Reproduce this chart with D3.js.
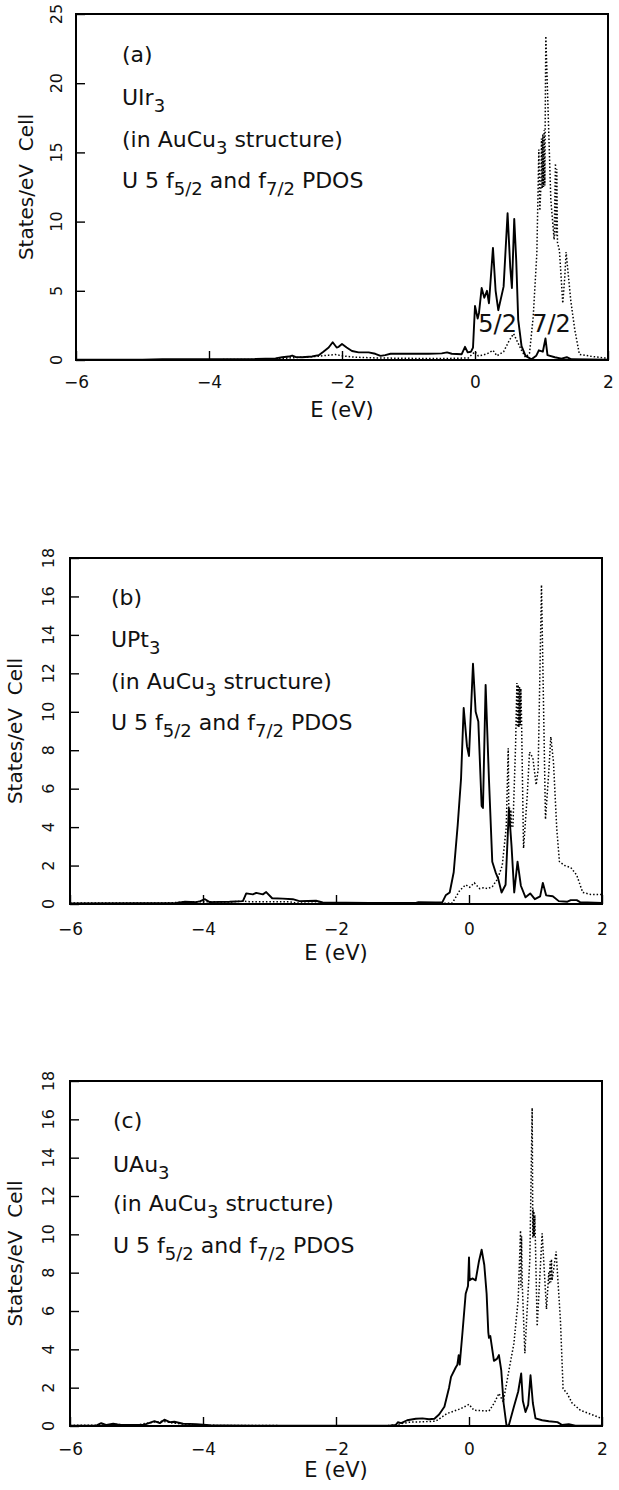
<!DOCTYPE html>
<html>
<head>
<meta charset="utf-8">
<script src="https://cdn.jsdelivr.net/npm/d3@7"></script>
<style>
  body { margin: 0; background: #fff; }
  svg { display: block; }
  text { font-family: "DejaVu Sans", sans-serif; fill: #111; white-space: pre; }
</style>
</head>
<body>
<svg id="chart" width="619" height="1490"></svg>
<script>
// Energy axis ticks (eV) shared by all three panels
const energyTicks = [-6, -4, -2, 0, 2];
const dosTicksA = [0, 5, 10, 15, 20, 25];
const dosTicksBC = [0, 2, 4, 6, 8, 10, 12, 14, 16, 18];

// U 5f partial DOS, [E (eV), states/eV cell]
// (a) UIr3
const uir3F52 = [[-6,0.02],[-5,0.03],[-4.7,0.05],[-4,0.05],[-3.3,0.07],[-3.0,0.12],[-2.9,0.2],[-2.8,0.25],[-2.75,0.32],[-2.7,0.22],[-2.6,0.2],[-2.45,0.25],[-2.35,0.35],[-2.28,0.6],[-2.2,0.9],[-2.14,1.28],[-2.08,0.9],[-2.05,0.95],[-2.0,1.15],[-1.93,0.9],[-1.85,0.65],[-1.75,0.55],[-1.6,0.55],[-1.5,0.45],[-1.42,0.3],[-1.35,0.35],[-1.27,0.45],[-1.0,0.45],[-0.7,0.45],[-0.5,0.48],[-0.42,0.55],[-0.35,0.45],[-0.2,0.42],[-0.15,0.95],[-0.11,0.55],[-0.06,0.6],[-0.03,0.9],[0.0,3.9],[0.04,3.0],[0.06,3.4],[0.1,5.2],[0.14,4.5],[0.18,5.0],[0.21,4.1],[0.27,8.1],[0.31,5.0],[0.35,3.6],[0.43,5.3],[0.49,10.6],[0.53,6.7],[0.555,5.2],[0.59,10.2],[0.62,7.2],[0.65,2.9],[0.70,1.0],[0.76,0.3],[0.85,0.05],[0.92,0.3],[0.96,0.7],[1.02,0.6],[1.06,1.55],[1.09,0.35],[1.2,0.2],[1.3,0.1],[1.38,0.2],[1.45,0.05],[2,0.02]];
const uir3F72 = [[-6,0.0],[-4,0.02],[-3.2,0.05],[-2.9,0.12],[-2.6,0.2],[-2.4,0.25],[-2.2,0.35],[-2.1,0.4],[-2.0,0.3],[-1.8,0.2],[-1.5,0.15],[-1.0,0.12],[-0.5,0.1],[-0.1,0.15],[0.0,0.6],[0.05,0.3],[0.12,0.35],[0.2,0.5],[0.27,0.7],[0.33,0.3],[0.43,0.6],[0.52,1.45],[0.58,1.9],[0.64,1.3],[0.70,0.7],[0.76,0.2],[0.82,0.5],[0.875,3.1],[0.93,7.7],[0.96,15.2],[0.975,10.8],[0.99,12.4],[1.0,16.0],[1.01,12.4],[1.02,16.3],[1.03,12.5],[1.04,16.6],[1.05,12.6],[1.055,16.8],[1.065,23.4],[1.14,11.6],[1.19,8.7],[1.21,14.2],[1.22,9.0],[1.23,13.8],[1.24,8.5],[1.27,7.9],[1.32,4.1],[1.35,6.0],[1.37,7.8],[1.44,4.3],[1.5,2.2],[1.57,0.4],[1.77,0.25],[1.95,0.15],[2,0.15]];

// (b) UPt3
const upt3F52 = [[-6,0.03],[-5,0.04],[-4.4,0.05],[-4.27,0.12],[-4.1,0.1],[-4.04,0.15],[-3.97,0.25],[-3.9,0.1],[-3.6,0.12],[-3.4,0.15],[-3.35,0.55],[-3.25,0.5],[-3.2,0.58],[-3.1,0.5],[-3.05,0.62],[-2.96,0.3],[-2.8,0.28],[-2.65,0.25],[-2.55,0.15],[-2.3,0.17],[-2.2,0.08],[-1.5,0.05],[-0.8,0.06],[-0.76,0.1],[-0.5,0.08],[-0.4,0.1],[-0.35,0.45],[-0.29,0.6],[-0.23,1.65],[-0.17,4.1],[-0.12,6.5],[-0.08,10.2],[-0.03,8.2],[0.0,7.7],[0.06,12.5],[0.1,10.0],[0.14,9.5],[0.19,5.1],[0.21,5.0],[0.25,11.4],[0.3,6.5],[0.35,2.2],[0.40,1.65],[0.44,1.3],[0.49,0.6],[0.55,1.0],[0.6,4.95],[0.64,3.0],[0.68,0.6],[0.73,2.2],[0.78,0.95],[0.85,0.35],[0.92,0.55],[0.99,0.25],[1.07,0.4],[1.11,1.1],[1.16,0.45],[1.26,0.4],[1.35,0.15],[1.48,0.12],[1.53,0.2],[1.62,0.2],[1.67,0.1],[2,0.05]];
const upt3F72 = [[-6,0.05],[-5,0.05],[-4.5,0.06],[-4.3,0.1],[-4.0,0.12],[-3.6,0.1],[-3.4,0.15],[-3.3,0.12],[-3.0,0.12],[-2.7,0.12],[-2.6,0.05],[-2.0,0.03],[-1.0,0.03],[-0.5,0.03],[-0.25,0.05],[-0.14,0.7],[-0.05,1.0],[0.01,0.87],[0.08,1.1],[0.16,0.8],[0.22,0.85],[0.28,0.8],[0.35,0.9],[0.43,1.3],[0.5,2.0],[0.56,4.0],[0.59,8.1],[0.6,4.2],[0.61,5.0],[0.62,4.0],[0.63,4.9],[0.64,4.0],[0.66,4.0],[0.7,8.2],[0.72,11.5],[0.73,9.2],[0.74,11.4],[0.75,9.2],[0.76,11.3],[0.77,9.3],[0.78,11.2],[0.79,9.6],[0.82,2.9],[0.875,5.6],[0.91,7.9],[0.96,7.6],[1.01,6.2],[1.04,7.0],[1.09,16.6],[1.15,4.4],[1.2,6.9],[1.23,8.7],[1.27,7.4],[1.32,3.9],[1.36,2.2],[1.44,2.0],[1.53,1.9],[1.62,1.5],[1.71,0.6],[1.83,0.5],[2,0.5]];

// (c) UAu3
const uau3F52 = [[-6,0.02],[-5.6,0.03],[-5.53,0.15],[-5.45,0.05],[-5.35,0.12],[-5.25,0.05],[-4.9,0.05],[-4.73,0.25],[-4.65,0.15],[-4.58,0.33],[-4.5,0.2],[-4.43,0.22],[-4.3,0.12],[-4.1,0.1],[-3.9,0.04],[-3.7,0.03],[-3.0,0.01],[-1.2,0.02],[-1.1,0.05],[-1.07,0.2],[-1.02,0.15],[-0.93,0.3],[-0.8,0.38],[-0.7,0.4],[-0.6,0.35],[-0.52,0.38],[-0.45,0.6],[-0.37,1.0],[-0.3,2.0],[-0.27,2.56],[-0.2,3.05],[-0.175,3.2],[-0.155,3.7],[-0.14,3.2],[-0.1,4.8],[-0.05,6.9],[-0.015,7.3],[0.0,8.8],[0.01,7.6],[0.05,7.7],[0.1,7.6],[0.15,8.6],[0.19,9.2],[0.23,8.4],[0.265,6.9],[0.29,4.9],[0.3,4.6],[0.32,4.7],[0.375,3.4],[0.42,3.5],[0.45,3.7],[0.485,2.9],[0.52,1.2],[0.565,0],[0.6,0.05],[0.675,1.0],[0.74,1.8],[0.785,2.74],[0.81,1.3],[0.85,0.73],[0.89,1.1],[0.925,2.65],[0.96,1.2],[1.0,0.4],[1.1,0.3],[1.2,0.25],[1.33,0.2],[1.4,0.05],[1.5,0.1],[1.6,0.02],[2,0.02]];
const uau3F72 = [[-6,0.03],[-5.5,0.05],[-5.3,0.08],[-5.0,0.05],[-4.75,0.2],[-4.6,0.25],[-4.45,0.15],[-4.2,0.08],[-3.8,0.03],[-2,0.01],[-1.2,0.02],[-1.05,0.1],[-0.9,0.2],[-0.7,0.22],[-0.5,0.25],[-0.33,0.65],[-0.125,0.9],[0.0,1.13],[0.075,0.82],[0.2,0.8],[0.3,0.78],[0.38,1.2],[0.45,1.7],[0.515,1.26],[0.6,2.9],[0.675,4.3],[0.74,6.6],[0.775,10.2],[0.78,7.2],[0.79,9.9],[0.8,7.5],[0.84,3.8],[0.915,8.7],[0.95,16.6],[0.96,9.8],[0.965,11.3],[0.97,9.9],[0.975,11.2],[0.98,9.9],[0.99,11.0],[1.025,5.2],[1.1,10.05],[1.165,6.1],[1.2,8.0],[1.21,7.4],[1.22,8.6],[1.23,7.5],[1.24,8.7],[1.25,7.6],[1.31,9.1],[1.375,5.5],[1.415,1.95],[1.475,1.7],[1.55,1.2],[1.675,0.82],[1.875,0.56],[2,0.38]];

// Text lines inside each panel: [text, isSubscript]
const structureLine = [["(in AuCu", false], ["3", true], [" structure)", false]];
const pdosLine = [["U 5 f", false], ["5/2", true], [" and f", false], ["7/2", true], [" PDOS", false]];

const panels = [
  { tag: "(a)", formula: [["UIr", false], ["3", true]], f52: uir3F52, f72: uir3F72,
    yMax: 25, yTicks: dosTicksA,
    box: { left: 76, right: 608, top: 14, bottom: 360 },
    textX: 122, textY: [48, 91, 133, 174],
    yTickX: 62, yTitleX: 33, xTickDy: 29, xTitleDy: 57,
    spinLabels: [["5/2", 0.05, 2.0], ["7/2", 0.86, 2.0]] },
  { tag: "(b)", formula: [["UPt", false], ["3", true]], f52: upt3F52, f72: upt3F72,
    yMax: 18, yTicks: dosTicksBC,
    box: { left: 70, right: 602, top: 558, bottom: 904 },
    textX: 111, textY: [47, 89, 131, 172],
    yTickX: 54, yTitleX: 22, xTickDy: 32, xTitleDy: 56,
    spinLabels: [] },
  { tag: "(c)", formula: [["UAu", false], ["3", true]], f52: uau3F52, f72: uau3F72,
    yMax: 18, yTicks: dosTicksBC,
    box: { left: 70, right: 602, top: 1081, bottom: 1426 },
    textX: 113, textY: [47, 91, 130, 172],
    yTickX: 54, yTitleX: 22, xTickDy: 30, xTitleDy: 51,
    spinLabels: [] }
];

const svg = d3.select("#chart");

function richText(sel, parts) {
  let shifted = false;
  parts.forEach(([str, sub]) => {
    const t = sel.append("tspan").text(str);
    if (sub && !shifted) { t.attr("font-size", 18).attr("dy", 7); shifted = true; }
    else if (!sub && shifted) { t.attr("dy", -7); shifted = false; }
  });
}

panels.forEach((p, i) => {
  const b = p.box;
  const x = d3.scaleLinear().domain([-6, 2]).range([b.left, b.right]);
  const y = d3.scaleLinear().domain([0, p.yMax]).range([b.bottom, b.top]);
  const g = svg.append("g");

  const clipId = "clip" + i;
  g.append("clipPath").attr("id", clipId).append("rect")
    .attr("x", b.left).attr("y", b.top - 2)
    .attr("width", b.right - b.left).attr("height", b.bottom - b.top + 2);

  const line = d3.line().x(d => x(d[0])).y(d => y(d[1]));

  // f7/2 dotted, f5/2 solid
  g.append("path").datum(p.f72)
    .attr("clip-path", `url(#${clipId})`)
    .attr("d", line).attr("fill", "none").attr("stroke", "#000")
    .attr("stroke-width", 1.5).attr("stroke-dasharray", "1.5,2");
  g.append("path").datum(p.f52)
    .attr("clip-path", `url(#${clipId})`)
    .attr("d", line).attr("fill", "none").attr("stroke", "#000")
    .attr("stroke-width", 1.9).attr("stroke-linejoin", "round");

  // Frame
  g.append("rect").attr("x", b.left).attr("y", b.top)
    .attr("width", b.right - b.left).attr("height", b.bottom - b.top)
    .attr("fill", "none").attr("stroke", "#000").attr("stroke-width", 2);

  // Bottom axis: inward ticks and labels
  const xAxis = d3.axisBottom(x).tickValues(energyTicks).tickSize(-9).tickSizeOuter(0)
    .tickFormat(d => d < 0 ? "\u2212" + Math.abs(d) : String(d));
  const gx = g.append("g").attr("transform", `translate(0,${b.bottom})`).call(xAxis);
  gx.select(".domain").remove();
  gx.selectAll(".tick line").attr("stroke", "#000").attr("stroke-width", 1.4);
  gx.selectAll(".tick text").attr("font-size", 17).attr("fill", "#111")
    .attr("font-family", "DejaVu Sans, sans-serif")
    .attr("y", p.xTickDy - 6).attr("dy", "0.32em");

  // Left axis: inward ticks, rotated labels
  const yAxis = d3.axisLeft(y).tickValues(p.yTicks).tickSize(-9).tickSizeOuter(0).tickFormat(d3.format("d"));
  const gy = g.append("g").attr("transform", `translate(${b.left},0)`).call(yAxis);
  gy.select(".domain").remove();
  gy.selectAll(".tick line").attr("stroke", "#000").attr("stroke-width", 1.4);
  gy.selectAll(".tick text").remove();
  g.selectAll(".ylab").data(p.yTicks).join("text").attr("class", "ylab")
    .attr("transform", d => `translate(${p.yTickX},${y(d)}) rotate(-90)`)
    .attr("text-anchor", "middle").attr("font-size", 16).text(d => d);

  // Axis titles
  g.append("text").attr("x", (b.left + b.right) / 2).attr("y", b.bottom + p.xTitleDy)
    .attr("text-anchor", "middle").attr("font-size", 21).text("E (eV)");
  g.append("text")
    .attr("transform", `translate(${p.yTitleX},${(b.top + b.bottom) / 2}) rotate(-90)`)
    .attr("text-anchor", "middle").attr("font-size", 20).text("States/eV  Cell");

  // Panel description
  const lines = [[[p.tag, false]], p.formula, structureLine, pdosLine];
  lines.forEach((parts, k) => {
    const t = g.append("text").attr("x", p.textX).attr("y", b.top + p.textY[k]).attr("font-size", 22);
    richText(t, parts);
  });

  // Spin-orbit component labels
  p.spinLabels.forEach(([label, e, v]) => {
    g.append("text").attr("x", x(e)).attr("y", y(v)).attr("font-size", 24).text(label);
  });
});
</script>
</body>
</html>
